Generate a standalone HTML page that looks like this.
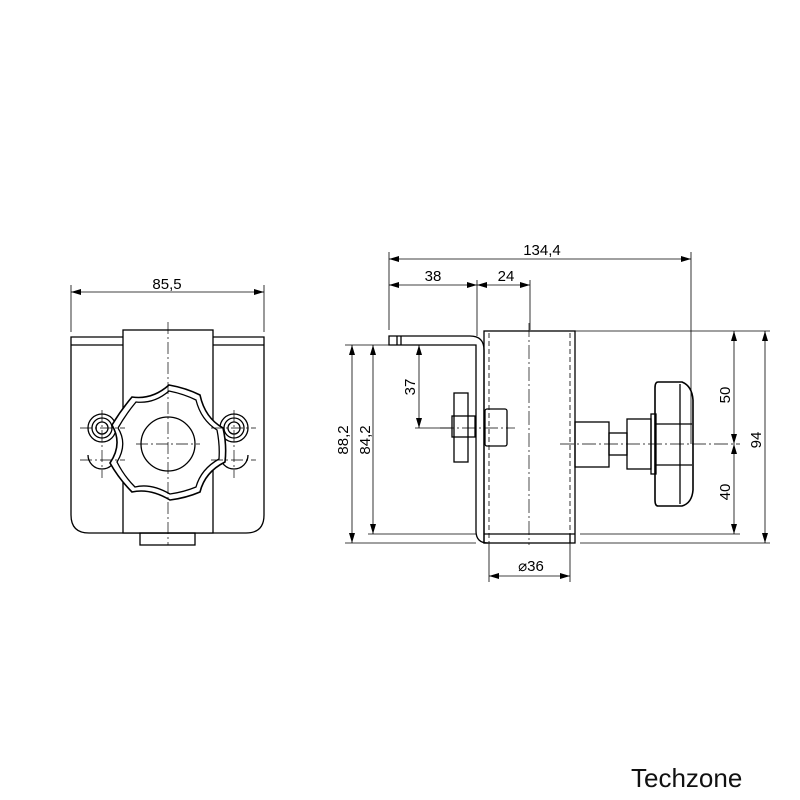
<!DOCTYPE html>
<html><head><meta charset="utf-8"><style>body{margin:0;background:#fff}svg{display:block}</style></head><body>
<svg width="800" height="800" viewBox="0 0 800 800" xmlns="http://www.w3.org/2000/svg" font-family="Liberation Sans, sans-serif">
<defs>
<marker id="a" viewBox="0 0 10 6" refX="10" refY="3" markerWidth="10" markerHeight="6" orient="auto-start-reverse" markerUnits="userSpaceOnUse"><path d="M0,0L10,3L0,6z" fill="#000"/></marker>
</defs>
<g stroke="#000" fill="none" stroke-width="1.3">
<!-- LEFT VIEW -->
<path d="M71,337H264V515Q264,533 246,533H89Q71,533 71,515Z"/>
<line x1="71" y1="345" x2="123" y2="345"/><line x1="213" y1="345" x2="264" y2="345"/>
<rect x="123" y="330" width="90" height="203" fill="#fff"/>
<rect x="140" y="533" width="55" height="12"/>
<circle cx="102" cy="428" r="14"/><circle cx="102" cy="428" r="10"/><circle cx="102" cy="428" r="6"/>
<circle cx="234" cy="428" r="14"/><circle cx="234" cy="428" r="10"/><circle cx="234" cy="428" r="6"/>
<path d="M88,455A14,14 0 1,0 116,455"/><path d="M220,455A14,14 0 1,0 248,455"/>
<path d="M169,385 Q186,388 200,395 Q205,418 223,428 Q227,445 225,462 Q205,472 200,492 Q186,498 170,500 Q150,488 132,492 Q119,479 110,463 Q123,444 112,425 Q121,410 132,397 Q152,400 169,385Z" fill="#fff" stroke-width="1.6"/>
<path d="M169,391 Q184,394 196,400 Q201,420 217,430 Q220,445 219,459 Q201,469 196,487 Q184,492 170,494 Q151,483 135,487 Q124,476 117,462 Q128,444 118,428 Q126,414 136,402 Q154,404 169,391Z"/>
<circle cx="168" cy="444" r="27"/>
</g>
<g stroke="#000" stroke-width="0.7" stroke-dasharray="12,3,2,3" fill="none">
<line x1="168" y1="322" x2="168" y2="545"/><line x1="136" y1="444" x2="200" y2="444"/>
<line x1="80" y1="428" x2="125" y2="428"/><line x1="102" y1="410" x2="102" y2="478"/>
<line x1="211" y1="428" x2="256" y2="428"/><line x1="234" y1="410" x2="234" y2="478"/>
<line x1="80" y1="460" x2="125" y2="460"/><line x1="211" y1="460" x2="256" y2="460"/>
</g>
<g stroke="#000" stroke-width="0.8" fill="none">
<line x1="71" y1="285" x2="71" y2="332"/><line x1="264" y1="285" x2="264" y2="332"/>
<line x1="71" y1="292" x2="264" y2="292" marker-start="url(#a)" marker-end="url(#a)"/>
</g>
<text x="167" y="289" font-size="15" text-anchor="middle">85,5</text>

<!-- RIGHT VIEW -->
<g stroke="#000" fill="none" stroke-width="1.3">
<path d="M389,336H470Q484,336 484,350V543H488Q476,543 476,531V345H389Z"/>
<line x1="397" y1="336" x2="397" y2="345"/><line x1="401" y1="336" x2="401" y2="345"/>
<rect x="484" y="331" width="91" height="212"/>
<line x1="484" y1="534" x2="575" y2="534"/>
<line x1="570" y1="534" x2="570" y2="543"/>
<rect x="454" y="393" width="14" height="69"/>
<rect x="452" y="416" width="23" height="21"/>
<rect x="485" y="409" width="22" height="37" rx="2"/>
<rect x="575" y="422" width="34" height="45"/>
<rect x="609" y="433" width="18" height="22"/>
<rect x="627" y="419" width="24" height="50"/>
<rect x="651" y="414" width="5" height="60"/>
<path d="M658,382H682Q692,386 693,400V490Q692,503 682,506H658Q655,506 655,500V388Q655,382 658,382Z" stroke-width="1.6"/>
<line x1="656" y1="424" x2="692" y2="424"/><line x1="656" y1="465" x2="692" y2="465"/>
<line x1="680" y1="384" x2="680" y2="504"/>
</g>
<g stroke="#000" stroke-width="0.8" fill="none" stroke-dasharray="5,3">
<line x1="489" y1="333" x2="489" y2="543"/><line x1="570" y1="333" x2="570" y2="534"/>
</g>
<g stroke="#000" stroke-width="0.7" fill="none" stroke-dasharray="14,3,2,3">
<line x1="529" y1="323" x2="529" y2="545"/>
<line x1="560" y1="444" x2="740" y2="444"/>
<line x1="440" y1="428" x2="515" y2="428"/>
</g>
<g stroke="#000" stroke-width="0.8" fill="none">
<line x1="389" y1="252" x2="389" y2="330"/><line x1="691" y1="252" x2="691" y2="444"/>
<line x1="477" y1="280" x2="477" y2="336"/><line x1="530" y1="280" x2="530" y2="330"/>
<line x1="389" y1="259" x2="691" y2="259" marker-start="url(#a)" marker-end="url(#a)"/>
<line x1="389" y1="285" x2="477" y2="285" marker-start="url(#a)" marker-end="url(#a)"/>
<line x1="477" y1="285" x2="530" y2="285" marker-start="url(#a)" marker-end="url(#a)"/>
<line x1="345" y1="345" x2="389" y2="345"/><line x1="345" y1="543" x2="476" y2="543"/>
<line x1="368" y1="534" x2="476" y2="534"/><line x1="415" y1="428" x2="452" y2="428"/>
<line x1="352" y1="345" x2="352" y2="543" marker-start="url(#a)" marker-end="url(#a)"/>
<line x1="373" y1="345" x2="373" y2="534" marker-start="url(#a)" marker-end="url(#a)"/>
<line x1="419" y1="345" x2="419" y2="428" marker-start="url(#a)" marker-end="url(#a)"/>
<line x1="575" y1="331" x2="770" y2="331"/><line x1="580" y1="534" x2="740" y2="534"/>
<line x1="580" y1="543" x2="770" y2="543"/>
<line x1="734" y1="331" x2="734" y2="444" marker-start="url(#a)" marker-end="url(#a)"/>
<line x1="734" y1="444" x2="734" y2="534" marker-start="url(#a)" marker-end="url(#a)"/>
<line x1="765" y1="331" x2="765" y2="543" marker-start="url(#a)" marker-end="url(#a)"/>
<line x1="489" y1="543" x2="489" y2="582"/><line x1="570" y1="543" x2="570" y2="582"/>
<line x1="489" y1="576" x2="570" y2="576" marker-start="url(#a)" marker-end="url(#a)"/>
</g>
<g font-size="15" fill="#000">
<text x="542" y="255" text-anchor="middle">134,4</text>
<text x="433" y="281" text-anchor="middle">38</text>
<text x="506" y="281" text-anchor="middle">24</text>
<text x="531" y="571" text-anchor="middle">⌀36</text>
<text transform="translate(348,440) rotate(-90)" text-anchor="middle">88,2</text>
<text transform="translate(370,440) rotate(-90)" text-anchor="middle">84,2</text>
<text transform="translate(415,387) rotate(-90)" text-anchor="middle">37</text>
<text transform="translate(730,395) rotate(-90)" text-anchor="middle">50</text>
<text transform="translate(730,492) rotate(-90)" text-anchor="middle">40</text>
<text transform="translate(761,440) rotate(-90)" text-anchor="middle">94</text>
</g>
<text x="631" y="787" font-size="26" fill="#111">Techzone</text>
</svg>
</body></html>
